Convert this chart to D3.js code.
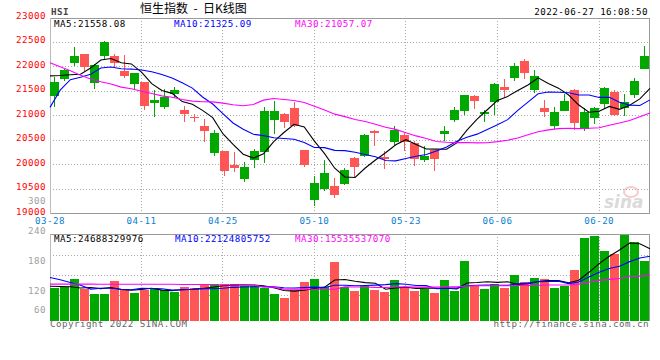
<!DOCTYPE html>
<html><head><meta charset="utf-8">
<script src="https://cdn.jsdelivr.net/npm/d3@7/dist/d3.min.js"></script>
<style>body{margin:0;background:#fff}svg{display:block}</style>
</head><body><svg id="c" width="660" height="360"></svg>
<script>
// ---- data ----
const dates = ["03-28","03-29","03-30","03-31","04-01","04-04","04-06","04-07","04-08","04-11","04-12","04-13","04-14","04-19","04-20","04-21","04-22","04-25","04-26","04-27","04-28","04-29","05-03","05-04","05-05","05-06","05-10","05-11","05-12","05-13","05-16","05-17","05-18","05-19","05-20","05-23","05-24","05-25","05-26","05-27","05-30","05-31","06-01","06-02","06-06","06-07","06-08","06-09","06-10","06-13","06-14","06-15","06-16","06-17","06-20","06-21","06-22","06-23","06-24","06-27"];
const tickLabels = ["03-28","04-11","04-25","05-10","05-23","06-06","06-20"];
const openP = [21402,21750,22084,22261,21675,22227,22220,21913,21654,21688,21266,21184,21450,21116,20979,20795,20243,20277,19990,19711,20099,20263,20911,21041,21156,20297,19281,19499,19561,19608,20127,20181,20686,20154,20468,20611,20434,20099,20290,20631,20911,21095,21402,21041,21272,21579,21777,22125,21518,21156,20781,21102,21525,20727,20945,21245,21484,21150,21416,21961];
const highP = [21790,21950,22398,22265,22050,22527,22261,22241,21880,21695,21525,21545,21586,21197,21041,20931,20706,20285,20249,20052,20311,21184,21300,21061,21286,20300,19765,20093,19717,19936,20161,20625,20706,20277,20788,20638,20481,20379,20295,20788,21184,21425,21422,21116,21675,21750,22084,22152,21934,21320,21184,21436,21552,21150,21180,21593,21525,21443,21777,22425];
const lowP = [21184,21712,22016,21920,21552,22139,22002,21770,21552,21122,20979,21129,21354,20877,20877,20468,20181,19772,19854,19649,19936,20024,20625,20754,20770,19956,19151,19458,19322,19588,19752,20161,20386,19915,20399,20284,19977,20052,19874,20481,20877,21020,21136,20877,21013,21388,21716,21743,21470,20979,20720,21100,20706,20693,20836,21163,21000,20993,21368,21960];
const closeP = [21684.97,21927.63,22232.03,21996.85,22039.55,22502.31,22080.52,21808.98,21872.01,21208.30,21319.13,21374.37,21518.08,21027.76,20944.67,20682.22,20638.52,19869.34,19934.71,19946.36,20276.17,21089.39,21101.89,20869.52,20793.40,20001.96,19633.69,19824.57,19380.34,19898.77,19950.21,20602.52,20644.28,20120.68,20717.24,20470.06,20112.10,20171.27,20116.20,20697.36,21123.93,21415.20,21294.94,21082.13,21653.90,21531.67,22014.59,21869.05,21806.18,21067.58,21067.99,21308.21,20845.43,21075.00,21163.91,21559.59,21008.34,21273.87,21719.06,22229.52];
// closes of the 29 sessions before 03-28 (for the moving averages)
const priorCloses = [24355.87,24718.90,24792.77,24327.71,24170.07,23520.00,23660.28,22901.56,22767.18,22713.02,22761.71,22343.92,22467.22,21905.29,21057.03,20765.87,20627.71,20890.26,20553.79,19531.66,18415.08,20087.50,21501.23,21412.40,21221.34,21889.28,22154.08,21945.95,21404.88];
// volume, 1e8 shares
const volume = [112.9,117.7,142.7,108.5,92.4,92.4,136.8,108.5,95.8,107.4,111.9,105,99.2,115.3,111.9,122.1,128,125.6,125.6,118.7,118.7,114.3,91.3,78.7,107.4,134.8,142.7,115.3,201.8,116.3,102.6,121.1,105,98.2,139.2,112.9,102.6,109.5,94.8,139.2,101.6,204.2,118.7,108.5,128,112.9,156.3,132.4,146.1,142.7,112.9,121.1,173.5,282.9,290.8,238.5,229.2,293.2,269.2,204.2];
const volMa5Early = [119,118,117,113];
const volMa10Early = [149,141,132,122,109,112,112,108.5,106.7];
const volMa30Early = [126,126,126,126,126,125.5,125.5,125.5,125.5,125.5,125.5,125.5,125.5,125,125,125,125,123,123,123,123,116.5,116,109,109,108.5,108.5,108.5,108.5];
const priceTicks = [23000,22500,22000,21500,21000,20500,20000,19500,19000];
const volTickLabels = [300,240,180,120,60];
const headerPrice = [["MA5:21558.08","#000"],["MA10:21325.09","#0000ff"],["MA30:21057.07","#ff00ff"]];
const headerVol = [["MA5:24688329976","#000"],["MA10:22124805752","#0000ff"],["MA30:15535537070","#ff00ff"]];

// ---- drawing ----
const svg = d3.select("#c");
const mono = "'DejaVu Sans Mono','Liberation Mono',monospace";
const FS = 9.2, LS = 0.45;
const GREEN = "#00a800", RED = "#ff5555", GRID = "#a8a8a8", FRAME = "#999";
const L = 50, R = 650;
const xb = d3.scaleBand().domain(dates).range([L, R]).paddingInner(0).paddingOuter(0);
const xp = d3.scalePoint().domain(dates).range([L, R]);
const y = d3.scaleLinear().domain([19000, 23000]).range([213.5, 18]);
const vy = d3.scaleLinear().domain([0, 296.6]).range([321, 234.3]);
const vlab = d3.scaleLinear().domain([60, 240]).range([320.7, 230.7]);
const vgrid = d3.scaleLinear().domain([0, 4]).range([235, 315]);
const px = v => Math.floor(v) + 0.5;
function label(x, yy, t, col, anchor) {
  return svg.append("text").attr("x", x).attr("y", yy).attr("dominant-baseline","middle")
    .attr("text-anchor", anchor || "start").attr("font-family", mono).attr("font-size", FS)
    .attr("letter-spacing", LS).attr("fill", col).text(t);
}

// title / header
label(51, 12, "HSI", "#444").attr("font-weight","bold");
svg.append("text").attr("x", 140).attr("y", 10).attr("dominant-baseline","middle")
  .attr("font-family","'Noto Sans CJK SC',sans-serif").attr("font-size", 12).attr("fill","#000")
  .attr("xml:space","preserve").text("恒生指数  -  日K线图");
label(648, 12, "2022-06-27 16:08:50", "#000", "end");

// price panel grid
const gP = svg.append("g").attr("shape-rendering","crispEdges");
priceTicks.slice(1, -1).forEach(v => {
  gP.append("line").attr("x1", L).attr("x2", R).attr("y1", px(y(v))).attr("y2", px(y(v)))
    .attr("stroke", GRID).attr("stroke-dasharray","1,2");
});
tickLabels.slice(1).forEach(d => {
  gP.append("line").attr("x1", px(xp(d))).attr("x2", px(xp(d))).attr("y1", y(23000)).attr("y2", y(19000))
    .attr("stroke", GRID).attr("stroke-dasharray","1,2");
  svg.append("line").attr("x1", px(xp(d))).attr("x2", px(xp(d))).attr("y1", 234).attr("y2", 321)
    .attr("stroke", GRID).attr("stroke-dasharray","1,2").attr("shape-rendering","crispEdges");
});
gP.append("line").attr("x1", L).attr("x2", R).attr("y1", px(y(23000))).attr("y2", px(y(23000))).attr("stroke", FRAME);
gP.append("line").attr("x1", L).attr("x2", R).attr("y1", px(y(19000))).attr("y2", px(y(19000))).attr("stroke", FRAME);
gP.append("line").attr("x1", L + 0.5).attr("x2", L + 0.5).attr("y1", y(23000)).attr("y2", y(19000)).attr("stroke", "#bbb");
gP.append("line").attr("x1", R - 0.5).attr("x2", R - 0.5).attr("y1", y(23000)).attr("y2", y(19000)).attr("stroke", FRAME);

// price axis labels
priceTicks.forEach(v => label(46, y(v) - 1.5, v, "#ff0000", "end"));
// date labels
tickLabels.forEach(d => label(xp(d), 221, d, "#0a80d0", "middle"));
// volume axis labels
volTickLabels.forEach(v => label(46, Math.min(vlab(v) + 0.8, 310), v, "#a0a0a0", "end"));

// watermark
const wm = svg.append("g").attr("opacity", 0.55);
wm.append("ellipse").attr("cx", 631).attr("cy", 192).attr("rx", 7).attr("ry", 5).attr("fill","none").attr("stroke","#f3a0a0").attr("stroke-width",2);
wm.append("text").attr("x", 604).attr("y", 208).attr("font-family","'DejaVu Sans',sans-serif").attr("font-style","italic")
  .attr("font-weight","bold").attr("font-size", 17).attr("fill","#bdbdbd").text("sina");

// candles
const gC = svg.append("g").attr("shape-rendering","crispEdges");
dates.forEach((d, i) => {
  const col = closeP[i] >= openP[i] ? GREEN : RED;
  const x0 = xb(d);
  gC.append("rect").attr("x", x0 + 4).attr("width", 1).attr("y", y(highP[i])).attr("height", y(lowP[i]) - y(highP[i])).attr("fill", col);
  const top = y(Math.max(openP[i], closeP[i])), bot = y(Math.min(openP[i], closeP[i]));
  gC.append("rect").attr("x", x0).attr("width", xb.bandwidth() - 1).attr("y", top).attr("height", Math.max(1, bot - top)).attr("fill", col);
});

// price moving averages
const allCloses = priorCloses.concat(closeP);
const pOff = priorCloses.length;
function priceMA(n) {
  return dates.map((d, i) => d3.mean(allCloses.slice(pOff + i - n + 1, pOff + i + 1)));
}
const line = d3.line().x((v, i) => xp(dates[i])).y(v => y(v));
[[5,"#000"],[10,"#0000ff"],[30,"#ff00ff"]].forEach(([n, c]) => {
  svg.append("path").attr("d", line(priceMA(n))).attr("fill","none").attr("stroke", c).attr("stroke-width", 1.1);
});
headerPrice.forEach(([t, c], k) => label([54, 174, 295][k], 24.5, t, c));

// volume panel frame
svg.append("g").attr("shape-rendering","crispEdges").call(g => {
  [1,2,3].forEach(k => g.append("line").attr("x1", L).attr("x2", R).attr("y1", px(vgrid(k))).attr("y2", px(vgrid(k)))
    .attr("stroke", GRID).attr("stroke-dasharray","1,2"));
  g.append("line").attr("x1", L).attr("x2", R).attr("y1", 234.5).attr("y2", 234.5).attr("stroke", FRAME);
  g.append("line").attr("x1", L + 0.5).attr("x2", L + 0.5).attr("y1", 234).attr("y2", 321).attr("stroke", "#bbb");
  g.append("line").attr("x1", R - 0.5).attr("x2", R - 0.5).attr("y1", 234).attr("y2", 321).attr("stroke", FRAME);
});

// volume bars
const gV = svg.append("g").attr("shape-rendering","crispEdges");
dates.forEach((d, i) => {
  const col = closeP[i] >= openP[i] ? GREEN : RED;
  gV.append("rect").attr("x", xb(d)).attr("width", xb.bandwidth() - 1)
    .attr("y", vy(volume[i])).attr("height", vy(0) - vy(volume[i])).attr("fill", col);
});
function volMA(n, early) {
  return dates.map((d, i) => i < n - 1 ? early[i] : d3.mean(volume.slice(i - n + 1, i + 1)));
}
const vline = d3.line().x((v, i) => xp(dates[i])).y(v => vy(v));
[[5, volMa5Early, "#000"], [10, volMa10Early, "#0000ff"], [30, volMa30Early, "#ff00ff"]].forEach(([n, e, c]) => {
  svg.append("path").attr("d", vline(volMA(n, e))).attr("fill","none").attr("stroke", c).attr("stroke-width", 1.1);
});
headerVol.forEach(([t, c], k) => label([54, 175, 295][k], 239, t, c));

// footer
label(50, 324, "Copyright 2022 SINA.COM", "#666");
label(649, 324.5, "http://finance.sina.com.cn", "#666", "end");
</script></body></html>
